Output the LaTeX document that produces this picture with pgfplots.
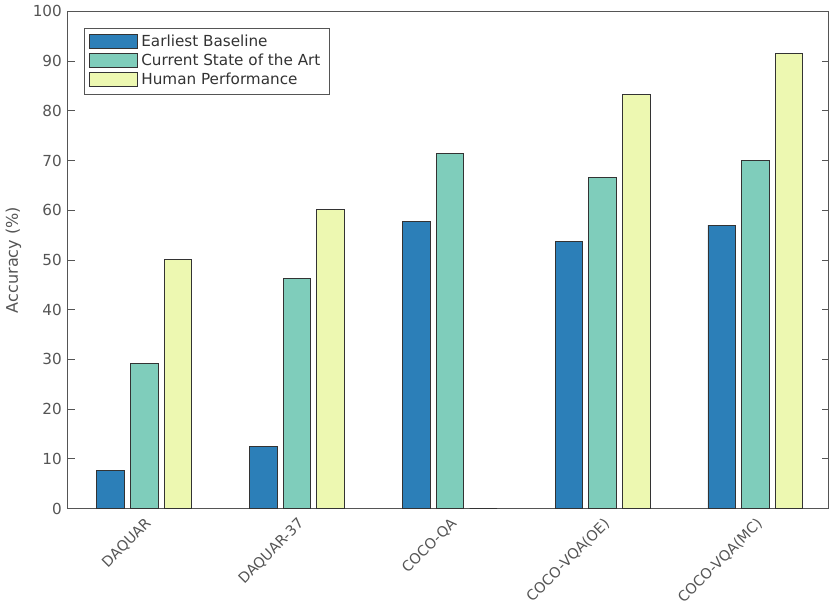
\documentclass[border=0pt]{standalone}
\usepackage{pgfplots}
\pgfplotsset{compat=1.18}
\usepackage{fontspec}
\setmainfont{DejaVu Sans}
\definecolor{cblue}{HTML}{2C7FB8}
\definecolor{cgreen}{HTML}{7FCDBB}
\definecolor{cyellow}{HTML}{EDF8B1}
\definecolor{axgray}{HTML}{555555}
\begin{document}
\begin{tikzpicture}
\begin{axis}[
  scale only axis,
  width=450pt, height=294pt,
  ybar, bar width=0.18,
  xmin=0.5, xmax=5.48,
  ymin=0, ymax=100,
  ytick={0,10,...,100},
  xtick={1,2,3,4,5},
  xticklabels={DAQUAR,DAQUAR-37,COCO-QA,COCO-VQA(OE),COCO-VQA(MC)},
  x tick label style={rotate=45, anchor=north east, font=\fontsize{8.5}{10}\selectfont, text=axgray},
  y tick label style={font=\fontsize{9}{11}\selectfont, text=axgray},
  /pgf/number format/assume math mode=true,
  ylabel={Accuracy (\%)},
  ylabel style={font=\fontsize{9.5}{11}\selectfont, text=axgray},
  major x tick style={draw=none},
  ytick pos=both,
  tick align=inside,
  major tick length=4pt,
  axis line style={axgray},
  every tick/.style={axgray},
  legend style={at={(0.021,0.967)}, anchor=north west, draw=axgray,
    font=\fontsize{9}{10.5}\selectfont, text=black!80, row sep=-1pt},
  legend cell align=left,
  legend image code/.code={\draw[#1] (0cm,-0.13cm) rectangle (1.0cm,0.16cm);},
]
\addplot[fill=cblue, draw=black!80, bar shift=-0.22] coordinates {
  (1,7.7) (2,12.5) (3,57.7) (4,53.7) (5,57.0)};
\addlegendentry{Earliest Baseline}
\addplot[fill=cgreen, draw=black!80, bar shift=0] coordinates {
  (1,29.2) (2,46.2) (3,71.4) (4,66.6) (5,70.0)};
\addlegendentry{Current State of the Art}
\addplot[fill=cyellow, draw=black!80, bar shift=0.22] coordinates {
  (1,50.1) (2,60.2) (3,0) (4,83.3) (5,91.5)};
\addlegendentry{Human Performance}
\end{axis}
\end{tikzpicture}
\end{document}
